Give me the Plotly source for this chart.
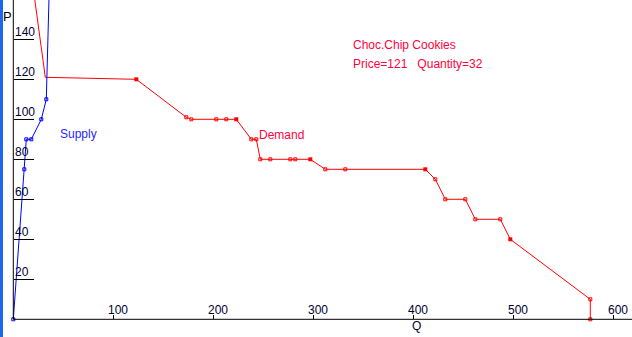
import plotly.graph_objects as go

# ---- data ----
demand_q = [16, 32, 123, 173, 178, 203, 213, 223, 238, 243, 247, 257, 277, 282, 297,
            312, 332, 412, 422, 432, 452, 462, 487, 497, 577, 577]
demand_p = [180, 121, 120, 101, 100, 100, 100, 100, 90, 90, 80, 80, 80, 80, 80,
            75, 75, 75, 70, 60, 60, 50, 50, 40, 10, 0]
demand_mark = ["none", "none", "filled", "open", "open", "open", "open", "filled", "open", "open",
               "open", "open", "open", "open", "filled", "open", "open", "filled", "open", "open",
               "open", "open", "open", "filled", "open", "open"]

supply_q = [0, 11, 13, 18, 28, 33, 37]
supply_p = [0, 75, 90, 90, 100, 110, 185]
supply_mark = ["open", "open", "open", "open", "open", "open", "none"]

x_ticks = [100, 200, 300, 400, 500, 600]
y_ticks = [20, 40, 60, 80, 100, 120, 140]

title_text = "Choc.Chip Cookies"
eq_price = 121
eq_qty = 32

W, H = 632, 337
x_range = [-13.3, 618.7]
y_range = [-8.85, 159.65]

FONT = "Liberation Sans, Arial, sans-serif"
RED = "#ff0000"
BLUE = "#0000ff"
RED_TXT = "#ff0040"
BLUE_TXT = "#2828ff"
TICK_TXT = "#000030"

fig = go.Figure()


def add_curve(qs, ps, marks, color):
    fig.add_trace(go.Scatter(x=qs, y=ps, mode="lines",
                             line=dict(color=color, width=1), hoverinfo="skip",
                             showlegend=False, cliponaxis=True))
    oq = [q for q, m in zip(qs, marks) if m == "open"]
    op = [p for p, m in zip(ps, marks) if m == "open"]
    fq = [q for q, m in zip(qs, marks) if m == "filled"]
    fp = [p for p, m in zip(ps, marks) if m == "filled"]
    fig.add_trace(go.Scatter(x=oq, y=op, mode="markers",
                             marker=dict(symbol="square-open", size=3, color=color,
                                         line=dict(width=1, color=color)),
                             showlegend=False, hoverinfo="skip"))
    fig.add_trace(go.Scatter(x=fq, y=fp, mode="markers",
                             marker=dict(symbol="square", size=4, color=color,
                                         line=dict(width=0)),
                             showlegend=False, hoverinfo="skip"))


add_curve(demand_q, demand_p, demand_mark, RED)
add_curve(supply_q, supply_p, supply_mark, BLUE)

annotations = []
for v in y_ticks:
    annotations.append(dict(x=0, y=v, xref="x", yref="y", text=str(v), showarrow=False,
                            xanchor="left", yanchor="middle", xshift=0, yshift=7,
                            font=dict(family=FONT, size=12, color=TICK_TXT)))
for v in x_ticks:
    annotations.append(dict(x=v, y=0, xref="x", yref="y", text=str(v), showarrow=False,
                            xanchor="center", yanchor="middle", xshift=5, yshift=9,
                            font=dict(family=FONT, size=12, color=TICK_TXT)))
annotations.append(dict(x=403, y=0, xref="x", yref="y", text="Q", showarrow=False,
                        xanchor="center", yanchor="middle", yshift=-7,
                        font=dict(family=FONT, size=12, color=TICK_TXT)))
annotations.append(dict(x=7 / W, y=1 - 17 / H, xref="paper", yref="paper", text="P",
                        showarrow=False, xanchor="center", yanchor="middle",
                        font=dict(family=FONT, size=13, color="#000000")))
annotations.append(dict(x=46.5, y=92.6, xref="x", yref="y", text="Supply", showarrow=False,
                        xanchor="left", yanchor="middle", xshift=-2,
                        font=dict(family=FONT, size=12, color=BLUE_TXT)))
annotations.append(dict(x=245.5, y=92.4, xref="x", yref="y", text="Demand", showarrow=False,
                        xanchor="left", yanchor="middle", xshift=-2,
                        font=dict(family=FONT, size=12, color=RED_TXT)))
annotations.append(dict(x=340, y=137.2, xref="x", yref="y", text=title_text, showarrow=False,
                        xanchor="left", yanchor="middle", xshift=-2,
                        font=dict(family=FONT, size=12, color=RED_TXT)))
annotations.append(dict(x=340, y=127.6, xref="x", yref="y",
                        text=f"Price={eq_price}\u00a0\u00a0\u00a0Quantity={eq_qty}",
                        showarrow=False, xanchor="left", yanchor="middle", xshift=-2,
                        font=dict(family=FONT, size=12, color=RED_TXT)))

shapes = [
    # left window edge stripe
    dict(type="rect", xref="paper", yref="paper", x0=0, x1=3 / W, y0=0, y1=1,
         fillcolor="#1f66f0", line=dict(width=0), layer="above"),
    # axes lines
    dict(type="line", xref="x", yref="y", x0=0, x1=0, y0=0, y1=y_range[1],
         line=dict(color="black", width=1)),
    dict(type="line", xref="x", yref="y", x0=0, x1=x_range[1], y0=0, y1=0,
         line=dict(color="black", width=1)),
]

fig.update_layout(
    width=W, height=H, autosize=False,
    margin=dict(l=0, r=0, t=0, b=0, pad=0),
    paper_bgcolor="white", plot_bgcolor="white",
    showlegend=False,
    xaxis=dict(range=x_range, showgrid=False, zeroline=False, showline=False,
               showticklabels=False, ticks="inside", ticklen=4, tickwidth=1,
               tickcolor="black", tickvals=x_ticks, anchor="free",
               position=(0 - y_range[0]) / (y_range[1] - y_range[0]), fixedrange=True),
    yaxis=dict(range=y_range, showgrid=False, zeroline=False, showline=False,
               showticklabels=False, ticks="inside", ticklen=20, tickwidth=1,
               tickcolor="black", tickvals=y_ticks, anchor="free",
               position=(0 - x_range[0]) / (x_range[1] - x_range[0]), fixedrange=True),
    annotations=annotations,
    shapes=shapes,
)

fig.write_html("out.html", config={"displayModeBar": False})
